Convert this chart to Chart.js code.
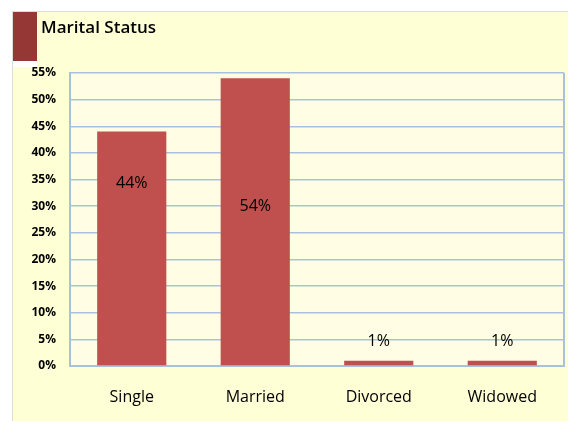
<!DOCTYPE html>
<html>
<head>
<meta charset="utf-8">
<script src="https://cdn.jsdelivr.net/npm/chart.js@4"></script>
<style>
  html, body { margin: 0; padding: 0; background: #fff; }
  #wrap { width: 568px; height: 421px; position: relative; }
</style>
</head>
<body>
<div id="wrap"><canvas id="c" width="568" height="421"></canvas></div>
<script>
const categories = ['Single', 'Married', 'Divorced', 'Widowed'];
const shares = [44, 54, 1, 1];
const yTicks = [0, 5, 10, 15, 20, 25, 30, 35, 40, 45, 50, 55];

const FONT = "'Open Sans', 'Noto Sans', sans-serif";
const GRID = '#a9c1de';

// page background, title block and plot area fill
const frame = {
  id: 'frame',
  beforeDraw(chart) {
    const ctx = chart.ctx;
    const a = chart.chartArea;
    ctx.save();
    ctx.fillStyle = '#ffffff';
    ctx.fillRect(0, 0, chart.width, chart.height);
    ctx.fillStyle = '#ffffd6';
    ctx.fillRect(13, 12, chart.width - 13, chart.height - 12);
    ctx.fillStyle = '#dcdcdc';
    ctx.fillRect(12, 11, chart.width - 12, 1);
    ctx.fillRect(12, 11, 1, chart.height - 11);
    ctx.fillStyle = '#ffffff';
    ctx.fillRect(13, 61, 24, 6);
    ctx.fillStyle = '#953735';
    ctx.fillRect(13, 12, 24, 49);
    ctx.fillStyle = '#000';
    ctx.font = "600 17px " + FONT;
    ctx.textBaseline = 'middle';
    ctx.fillText('Marital Status', 41, 28);
    ctx.fillStyle = '#fffde3';
    ctx.fillRect(a.left, a.top, a.right - a.left, a.bottom - a.top);
    ctx.restore();
  },
  beforeDatasetsDraw(chart) {
    const ctx = chart.ctx;
    const a = chart.chartArea;
    ctx.save();
    ctx.strokeStyle = GRID;
    ctx.lineWidth = 2;
    ctx.beginPath();
    ctx.moveTo(a.right, a.top);
    ctx.lineTo(a.right, a.bottom);
    ctx.stroke();
    ctx.restore();
  },
  afterDatasetsDraw(chart, args, opts) {
    const ctx = chart.ctx;
    const meta = chart.getDatasetMeta(0);
    ctx.save();
    ctx.fillStyle = '#000';
    ctx.font = "500 16px " + FONT;
    ctx.textAlign = 'center';
    ctx.textBaseline = 'middle';
    meta.data.forEach((bar, i) => {
      ctx.fillText(shares[i] + '%', bar.x, bar.y + opts.offsets[i]);
    });
    ctx.restore();
  }
};

new Chart(document.getElementById('c'), {
  type: 'bar',
  data: {
    labels: categories,
    datasets: [{
      data: shares,
      backgroundColor: '#c0504d',
      borderWidth: 0,
      categoryPercentage: 0.56,
      barPercentage: 1
    }]
  },
  options: {
    responsive: false,
    animation: false,
    layout: { padding: { left: 0, top: 73, right: 4, bottom: 0 } },
    plugins: {
      legend: { display: false },
      tooltip: { enabled: false },
      frame: { offsets: [52, 128, -19, -19] }
    },
    scales: {
      x: {
        afterFit(s) { s.height = 55; },
        grid: { display: false, drawTicks: false },
        border: { display: true, color: GRID, width: 2 },
        ticks: { color: '#000', padding: 22, font: { family: FONT, size: 16, weight: 500 } }
      },
      y: {
        min: 0,
        max: 55,
        afterFit(s) { s.width = 70; },
        afterBuildTicks(s) { s.ticks = yTicks.map(v => ({ value: v })); },
        grid: { color: GRID, lineWidth: 1.5, drawTicks: false },
        border: { display: true, color: GRID, width: 2 },
        ticks: {
          color: '#000',
          padding: 14,
          font: { family: FONT, size: 12, weight: 'bold' },
          callback: v => v + '%'
        }
      }
    }
  },
  plugins: [frame]
});
</script>
</body>
</html>
